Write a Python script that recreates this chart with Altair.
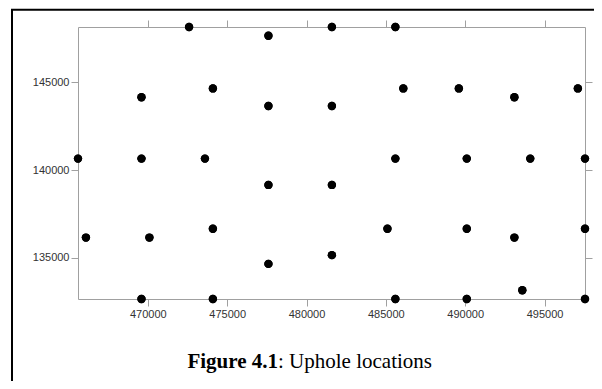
import altair as alt
import pandas as pd

# Uphole locations (easting, northing)
east = [472600, 481600, 485600,
        477600,
        474100, 486100, 489600, 497100,
        469600, 493100,
        477600, 481600,
        465600, 469600, 473600, 485600, 490100, 494100, 497550,
        477600, 481600,
        474100, 485100, 490100, 497550,
        466100, 470100, 493100,
        481600,
        477600,
        493600,
        469600, 474100, 485600, 490100, 497550]
north = [148150, 148150, 148150,
         147650,
         144650, 144650, 144650, 144650,
         144150, 144150,
         143650, 143650,
         140650, 140650, 140650, 140650, 140650, 140650, 140650,
         139150, 139150,
         136650, 136650, 136650, 136650,
         136150, 136150, 136150,
         135150,
         134650,
         133150,
         132650, 132650, 132650, 132650, 132650]

x_ticks = [470000, 475000, 480000, 485000, 490000, 495000]
y_ticks = [135000, 140000, 145000]
x_domain = [465600, 497550]
y_domain = [132650, 148150]
caption_bold = ["Figure 4.1"]
caption_rest = [": Uphole locations"]

pts = pd.DataFrame({"east": east, "north": north})
one = pd.DataFrame({"bold": caption_bold, "rest": caption_rest})

GRAY = "#a0a0a0"
xs = alt.Scale(domain=x_domain, nice=False, zero=False)
ys = alt.Scale(domain=y_domain, nice=False, zero=False)

ax = dict(domainColor=GRAY, tickColor=GRAY, tickSize=7, grid=False, title=None,
          format="d", labelFont="Liberation Sans", labelFontSize=11,
          labelColor="#333333", domainWidth=1, tickWidth=1)

main = alt.Chart(pts).mark_circle(size=70, color="black", opacity=1).encode(
    x=alt.X("east:Q", scale=xs,
            axis=alt.Axis(orient="bottom", values=x_ticks, labelPadding=2, **ax)),
    y=alt.Y("north:Q", scale=ys,
            axis=alt.Axis(orient="left", values=y_ticks, labelPadding=2, **ax)),
)

frame = alt.Chart(pts).mark_circle(size=70, color="black", opacity=1).encode(
    x=alt.X("east:Q", scale=xs,
            axis=alt.Axis(orient="top", values=x_ticks, labels=False, **ax)),
    y=alt.Y("north:Q", scale=ys,
            axis=alt.Axis(orient="right", values=y_ticks, labels=False, **ax)),
)

border_top = alt.Chart(one).mark_rule(color="black", strokeWidth=2).encode(
    x=alt.value(-67), x2=alt.value(560), y=alt.value(-17.3))
border_left = alt.Chart(one).mark_rule(color="black", strokeWidth=2).encode(
    x=alt.value(-66), y=alt.value(-18), y2=alt.value(400))

cap_b = alt.Chart(one).mark_text(font="Liberation Serif", fontSize=21, fontWeight="bold",
                                 align="right", baseline="alphabetic", color="black").encode(
    text="bold:N", x=alt.value(200), y=alt.value(341))
cap_r = alt.Chart(one).mark_text(font="Liberation Serif", fontSize=21, fontWeight="normal",
                                 align="left", baseline="alphabetic", color="black").encode(
    text="rest:N", x=alt.value(200), y=alt.value(341))

chart = alt.layer(main, frame, border_top, border_left, cap_b, cap_r).resolve_axis(
    x="independent", y="independent"
).properties(
    width=507, height=272,
    autosize=alt.AutoSizeParams(type="none"),
    padding={"left": 70, "top": 19, "right": 9, "bottom": 82},
).configure_view(stroke=None)

chart.save("out.html", embed_options={"renderer": "svg", "actions": False})
